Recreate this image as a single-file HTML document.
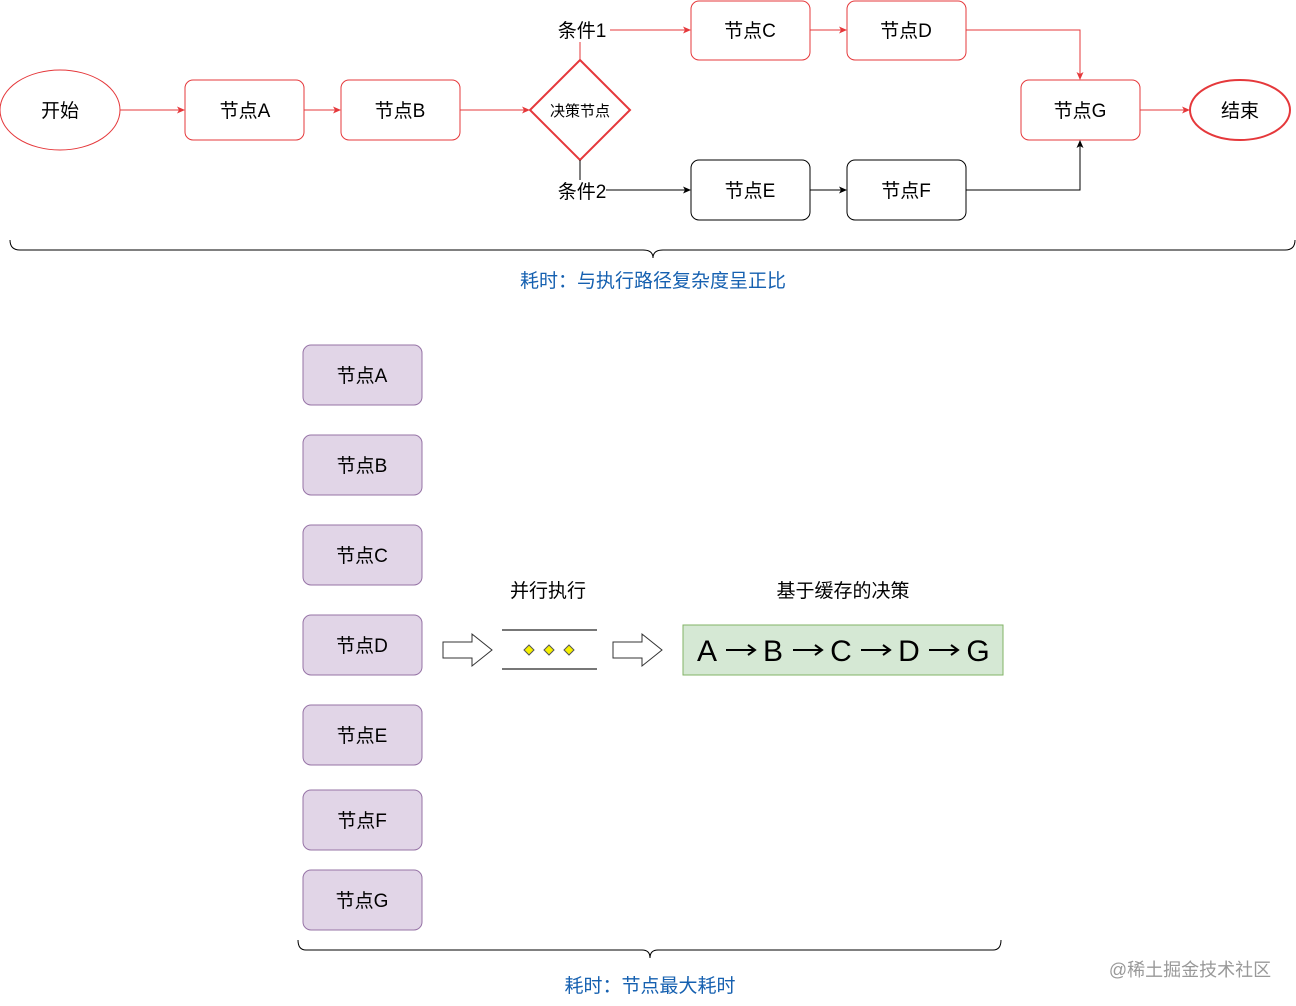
<!DOCTYPE html>
<html><head><meta charset="utf-8"><style>
html,body{margin:0;padding:0;background:#fff}
svg{display:block}
text{font-family:"Liberation Sans","Noto Sans CJK SC",sans-serif;}
</style></head><body>
<svg width="1296" height="1006" viewBox="0 0 1296 1006" xmlns="http://www.w3.org/2000/svg">
<defs>
<marker id="ar" markerWidth="8" markerHeight="8" refX="7" refY="4" orient="auto" markerUnits="userSpaceOnUse"><path d="M0,0.5 L8,4 L0,7.5 L2,4 Z" fill="#e5383b"/></marker>
<marker id="ab" markerWidth="8" markerHeight="8" refX="7" refY="4" orient="auto" markerUnits="userSpaceOnUse"><path d="M0,0.5 L8,4 L0,7.5 L2,4 Z" fill="#000"/></marker>
</defs>
<g fill="#fff" stroke="#e5383b" stroke-width="1">
<ellipse cx="60" cy="110" rx="60" ry="40"/>
<rect x="185" y="80" width="119" height="60" rx="8"/>
<rect x="341" y="80" width="119" height="60" rx="8"/>
<polygon points="580,60 630,110 580,160 530,110" stroke-width="2"/>
<rect x="691" y="1" width="119" height="59" rx="8"/>
<rect x="847" y="1" width="119" height="59" rx="8"/>
<rect x="1021" y="80" width="119" height="60" rx="8"/>
<ellipse cx="1240" cy="110" rx="50" ry="30" stroke-width="2"/>
</g>
<g fill="#fff" stroke="#000" stroke-width="1">
<rect x="691" y="160" width="119" height="60" rx="8"/>
<rect x="847" y="160" width="119" height="60" rx="8"/>
</g>
<g stroke="#e5383b" stroke-width="1" fill="none">
<line x1="120" y1="110" x2="184" y2="110" marker-end="url(#ar)"/>
<line x1="304" y1="110" x2="340" y2="110" marker-end="url(#ar)"/>
<line x1="460" y1="110" x2="529" y2="110" marker-end="url(#ar)"/>
<line x1="580" y1="60" x2="580" y2="42"/>
<line x1="610" y1="30" x2="690" y2="30" marker-end="url(#ar)"/>
<line x1="810" y1="30" x2="846" y2="30" marker-end="url(#ar)"/>
<polyline points="966,30 1080,30 1080,79" marker-end="url(#ar)"/>
<line x1="1140" y1="110" x2="1189" y2="110" marker-end="url(#ar)"/>
</g>
<g stroke="#000" stroke-width="1" fill="none">
<line x1="580" y1="160" x2="580" y2="180"/>
<line x1="606" y1="190" x2="690" y2="190" marker-end="url(#ab)"/>
<line x1="810" y1="190" x2="846" y2="190" marker-end="url(#ab)"/>
<polyline points="966,190 1080,190 1080,141" marker-end="url(#ab)"/>
</g>
<g font-size="19" text-anchor="middle" fill="#000">
<text x="60" y="117">开始</text>
<text x="245" y="117">节点A</text>
<text x="400" y="117">节点B</text>
<text x="580" y="116" font-size="15">决策节点</text>
<text x="582" y="37">条件1</text>
<text x="582" y="198">条件2</text>
<text x="750" y="37">节点C</text>
<text x="906" y="37">节点D</text>
<text x="750" y="197">节点E</text>
<text x="906" y="197">节点F</text>
<text x="1080" y="117">节点G</text>
<text x="1240" y="117">结束</text>
</g>
<path d="M10,240 Q10,250 20,250 L643,250 Q653,250 653,258 Q653,250 663,250 L1285,250 Q1295,250 1295,240" fill="none" stroke="#000" stroke-width="1"/>
<text x="653" y="287" font-size="19" text-anchor="middle" fill="#1560b0">耗时：与执行路径复杂度呈正比</text>
<g fill="#e1d5e7" stroke="#9673a6" stroke-width="1">
<rect x="303" y="345" width="119" height="60" rx="8"/>
<rect x="303" y="435" width="119" height="60" rx="8"/>
<rect x="303" y="525" width="119" height="60" rx="8"/>
<rect x="303" y="615" width="119" height="60" rx="8"/>
<rect x="303" y="705" width="119" height="60" rx="8"/>
<rect x="303" y="790" width="119" height="60" rx="8"/>
<rect x="303" y="870" width="119" height="60" rx="8"/>
</g>
<g font-size="19" text-anchor="middle" fill="#000">
<text x="362" y="382">节点A</text>
<text x="362" y="472">节点B</text>
<text x="362" y="562">节点C</text>
<text x="362" y="652">节点D</text>
<text x="362" y="742">节点E</text>
<text x="362" y="827">节点F</text>
<text x="362" y="907">节点G</text>
<text x="548" y="597">并行执行</text>
<text x="843" y="597">基于缓存的决策</text>
</g>
<g fill="#fff" stroke="#333" stroke-width="1">
<polygon points="443,642 472,642 472,634 492,650 472,666 472,658 443,658"/>
<polygon points="613,642 642,642 642,634 662,650 642,666 642,658 613,658"/>
</g>
<line x1="502" y1="630" x2="597" y2="630" stroke="#777" stroke-width="2"/>
<line x1="502" y1="669" x2="597" y2="669" stroke="#777" stroke-width="2"/>
<g fill="#f5f000" stroke="#555" stroke-width="1">
<polygon points="529,645 534,650 529,655 524,650"/>
<polygon points="549,645 554,650 549,655 544,650"/>
<polygon points="569,645 574,650 569,655 564,650"/>
</g>
<rect x="683" y="625" width="320" height="50" fill="#d5e8d4" stroke="#82b366"/>
<g font-size="30" text-anchor="middle" fill="#000">
<text x="707" y="661">A</text>
<text x="773" y="661">B</text>
<text x="841" y="661">C</text>
<text x="909" y="661">D</text>
<text x="978" y="661">G</text>
</g>
<g stroke="#000" stroke-width="2" fill="none">
<path d="M726,650 H754 M748,645 L755,650 L748,655"/>
<path d="M793,650 H821 M815,645 L822,650 L815,655"/>
<path d="M861,650 H889 M883,645 L890,650 L883,655"/>
<path d="M929,650 H957 M951,645 L958,650 L951,655"/>
</g>
<path d="M298,940 Q298,950 306,950 L642,950 Q650,950 650,958 Q650,950 658,950 L993,950 Q1001,950 1001,940" fill="none" stroke="#000" stroke-width="1"/>
<text x="650" y="992" font-size="19" text-anchor="middle" fill="#1560b0">耗时：节点最大耗时</text>
<text x="1190" y="976" font-size="18" text-anchor="middle" fill="#999">@稀土掘金技术社区</text>
</svg>
</body></html>
